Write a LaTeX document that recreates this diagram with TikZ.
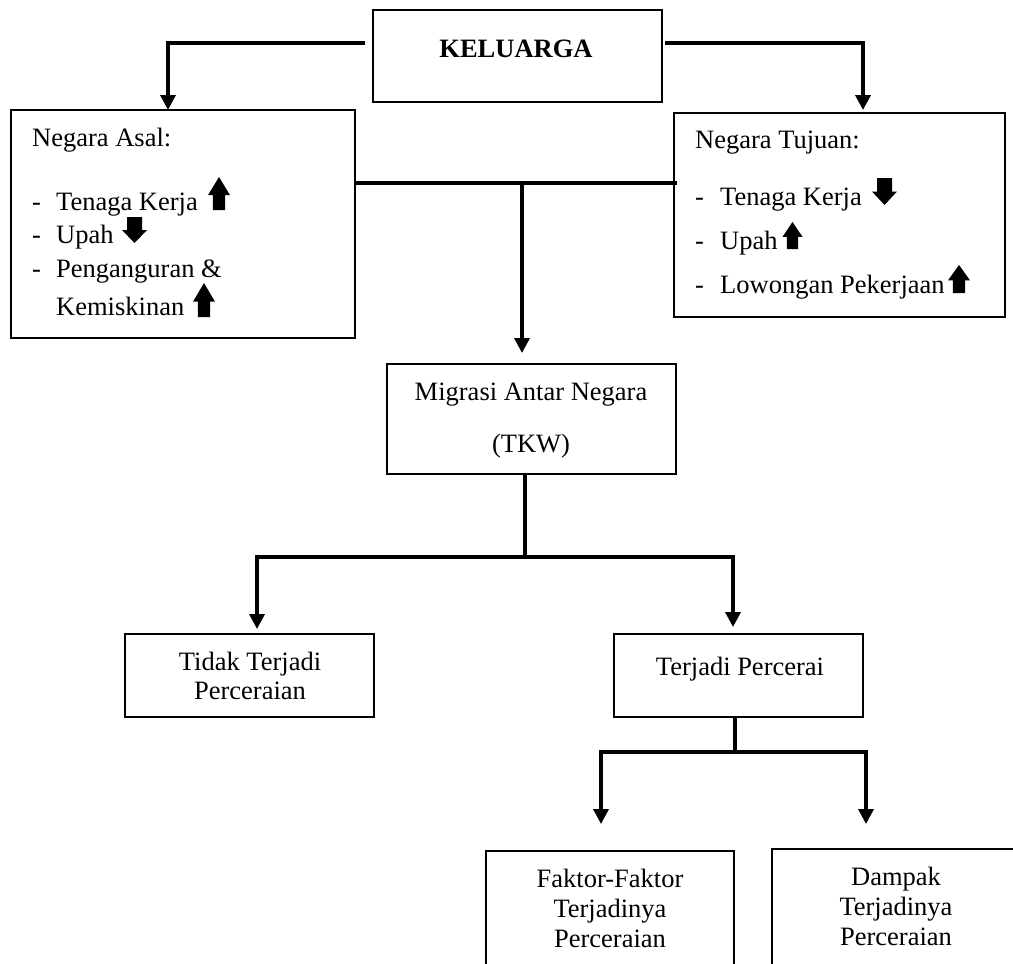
\documentclass[tikz,border=0pt]{standalone}
\usepackage{fontspec}
\setmainfont{Liberation Serif}
\usetikzlibrary{arrows.meta,calc}
\newcommand\upblk[4]{% cx, top, w, h
  \fill[blk] (#1,#2) -- ({#1+#3/2},{#2+0.55*#4}) -- ({#1+0.28*#3},{#2+0.55*#4}) -- ({#1+0.28*#3},{#2+#4}) -- ({#1-0.28*#3},{#2+#4}) -- ({#1-0.28*#3},{#2+0.55*#4}) -- ({#1-#3/2},{#2+0.55*#4}) -- cycle;}
\newcommand\dnblk[4]{% cx, top, w, h
  \fill[blk] ({#1-0.3*#3},#2) -- ({#1+0.3*#3},#2) -- ({#1+0.3*#3},{#2+0.5*#4}) -- ({#1+#3/2},{#2+0.5*#4}) -- (#1,{#2+#4}) -- ({#1-#3/2},{#2+0.5*#4}) -- ({#1-0.3*#3},{#2+0.5*#4}) -- cycle;}
\begin{document}
\begin{tikzpicture}[x=1pt,y=-1pt,
  box/.style={draw, line width=2pt, inner sep=0pt, outer sep=0pt},
  conn/.style={line width=3.5pt, -{Triangle[width=15pt,length=15pt]}},
  plain/.style={line width=3.5pt},
  txt/.style={font=\fontsize{26.5}{30}\selectfont, inner sep=0pt, anchor=base},
  ltxt/.style={txt, anchor=base west},
  blk/.style={fill=black}]
\path[use as bounding box] (0,0) rectangle (1013,964);
\clip (0,0) rectangle (1013,964);

% boxes
\node[box, minimum width=289pt, minimum height=92pt]  (kel)   at (517.5,56)  {};
\node[box, minimum width=344pt, minimum height=228pt] (asal)  at (183,224)   {};
\node[box, minimum width=331pt, minimum height=204pt] (tuj)   at (839.5,215) {};
\node[box, minimum width=289pt, minimum height=110pt] (mig)   at (531.5,419) {};
\node[box, minimum width=249pt, minimum height=83pt]  (tidak) at (249.5,675.5) {};
\node[box, minimum width=249pt, minimum height=83pt]  (terj)  at (738.5,675.5) {};
\node[box, minimum width=248pt, minimum height=149pt] (fak)   at (610,925.5) {};
\node[box, minimum width=248pt, minimum height=151pt] (dam)   at (896,924.5) {};

% texts
\node[txt] (kelt) at (516,57) {\bfseries KELUARGA};

\node[ltxt] (as0) at (32,146) {Negara Asal:};
\node[ltxt] (as1d) at (32,210) {-};
\node[ltxt] (as1) at (56,210) {Tenaga Kerja};
\node[ltxt] (as2d) at (32,243) {-};
\node[ltxt] (as2) at (56,243) {Upah};
\node[ltxt] (as3d) at (32,277) {-};
\node[ltxt] (as3) at (56,277) {Penganguran \&};
\node[ltxt] (as4) at (56,315) {Kemiskinan};

\node[ltxt] (tu0) at (695,148) {Negara Tujuan:};
\node[ltxt] (tu1d) at (695,205) {-};
\node[ltxt] (tu1) at (720,205) {Tenaga Kerja};
\node[ltxt] (tu2d) at (695,249) {-};
\node[ltxt] (tu2) at (720,249) {Upah};
\node[ltxt] (tu3d) at (695,293) {-};
\node[ltxt] (tu3) at (720,293) {Lowongan Pekerjaan};

\node[txt] (mig1) at (531,400) {Migrasi Antar Negara};
\node[txt] (mig2) at (531,452) {(TKW)};
\node[txt] (ti1) at (250,670) {Tidak Terjadi};
\node[txt] (ti2) at (250,699) {Perceraian};
\node[txt] (te1) at (740,675) {Terjadi Percerai};
\node[txt] (fa1) at (610,887) {Faktor-Faktor};
\node[txt] (fa2) at (610,917) {Terjadinya};
\node[txt] (fa3) at (610,947) {Perceraian};
\node[txt] (da1) at (896,885) {Dampak};
\node[txt] (da2) at (896,915) {Terjadinya};
\node[txt] (da3) at (896,945) {Perceraian};

% block arrows
\upblk{219}{177}{22}{33}
\dnblk{134.5}{217}{25}{26}
\upblk{204}{283}{22}{34}
\dnblk{884.5}{178}{25}{27}
\upblk{792.5}{222}{20}{27}
\upblk{959}{265}{22}{28}

% connectors
\coordinate (xL) at (168,43);
\coordinate (xR) at (863,43);
\draw[conn] ($(kel.west)+(-8,-13)$) -| (asal.north -| xL);
\draw[conn, shorten >=3pt] ($(kel.east)+(3,-13)$) -| (tuj.north -| xR);

\coordinate (jA) at (522,183);
\draw[plain] (asal.east |- jA) -- ($(tuj.west |- jA)+(3,0)$);
\draw[conn, shorten >=11pt] (jA) -- (mig.north -| jA);

\coordinate (jB) at (525,557);
\coordinate (aT) at (257,557);
\coordinate (aP) at (733,557);
\draw[plain] (mig.south -| jB) -- (jB);
\draw[conn, shorten >=5pt] (jB) -| (tidak.north -| aT);
\draw[conn, shorten >=7pt] (jB) -| (terj.north -| aP);

\coordinate (jC) at (735,752);
\coordinate (aF) at (601,752);
\coordinate (aD) at (866,752);
\draw[plain] (terj.south -| jC) -- (jC);
\draw[conn, shorten >=27pt] (jC) -| (fak.north -| aF);
\draw[conn, shorten >=25pt] (jC) -| (dam.north -| aD);
\end{tikzpicture}
\end{document}
